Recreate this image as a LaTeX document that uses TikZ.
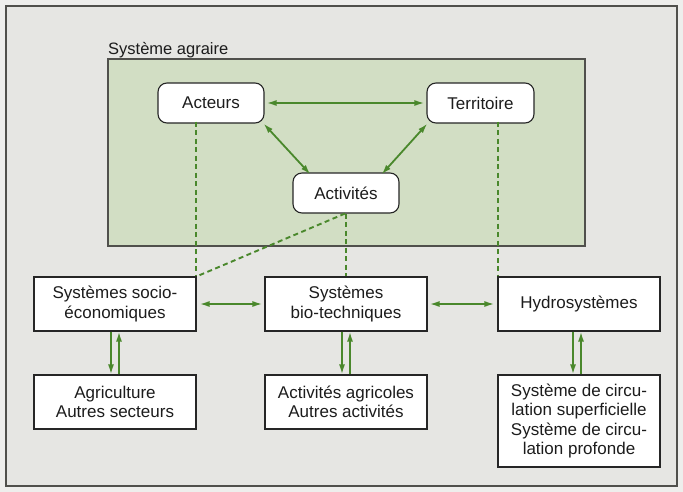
\documentclass[tikz,border=0pt]{standalone}
\usepackage{fontspec}
\setmainfont{Liberation Sans}
\usetikzlibrary{arrows.meta,calc}
\definecolor{bgout}{RGB}{238,238,236}
\definecolor{bgin}{RGB}{230,230,227}
\definecolor{agri}{RGB}{210,222,196}
\definecolor{arrgreen}{RGB}{74,136,44}
\definecolor{framegray}{RGB}{80,80,76}
\definecolor{txt}{RGB}{28,28,28}
\tikzset{
  txtfont/.style={font=\fontsize{17}{19.5}\selectfont, text=txt},
  roundbox/.style={txtfont, draw=black!85, line width=1.1pt, fill=white, rounded corners=9pt,
    minimum width=106pt, minimum height=40pt, inner sep=0pt},
  sqbox/.style={txtfont, draw=black!85, line width=1.1pt, fill=white, align=center,
    minimum width=162pt, minimum height=54pt, inner sep=0pt},
  linkarrow/.style={draw=arrgreen, line width=1.8pt, {Latex[length=10pt,width=6pt]}-{Latex[length=10pt,width=6pt]}},
  downarrow/.style={draw=arrgreen, line width=1.8pt, -{Latex[length=10pt,width=6pt]}},
  dashlink/.style={draw=arrgreen, line width=1.9pt, dash pattern=on 5pt off 3.5pt},
}
\begin{document}
\begin{tikzpicture}[x=1pt,y=-1pt]
\useasboundingbox (0,0) rectangle (683,492);
\fill[bgout] (0,0) rectangle (683,492);
\draw[framegray, fill=bgin, line width=1.4pt] (6,6) rectangle (677,486);

% Système agraire block
\node[txtfont, anchor=base west, inner sep=0pt, font=\fontsize{16.5}{19}\selectfont] (lbl) at (108,55) {Système agraire};
\draw[framegray, fill=agri, line width=1.4pt] (108,59) rectangle (585,246);

\node[roundbox] (acteurs) at (211,103) {Acteurs};
\node[roundbox, minimum width=107pt] (territoire) at (480.5,103) {Territoire};
\node[roundbox] (activites) at (346,193) {Activités};

% lower boxes
\node[sqbox] (socio) at (115,304) {Systèmes socio-\\économiques};
\node[sqbox] (bio) at (346,304) {Systèmes\\bio-techniques};
\node[sqbox] (hydro) at (579,304) {Hydrosystèmes};

\node[sqbox] (agric) at (115,402) {Agriculture\\Autres secteurs};
\node[sqbox] (actagri) at (346,402) {Activités agricoles\\Autres activités};
\node[sqbox, minimum height=92pt] (circ) at (579,421) {Système de circu-\\lation superficielle\\Système de circu-\\lation profonde};

% dashed links
\draw[dashlink] ([xshift=-0.5pt,yshift=2pt]acteurs.south -| socio.north east) -- ([xshift=-0.5pt]socio.north east);
\draw[dashlink] ([xshift=0.5pt,yshift=2pt]territoire.south -| hydro.north west) -- ([xshift=0.5pt]hydro.north west);
\draw[dashlink] (activites.south) -- (bio.north);
\draw[dashlink] ([xshift=-1pt]activites.south) -- (socio.north east);

% arrows inside agrarian system
\draw[linkarrow] ([xshift=2pt]acteurs.east) -- ([xshift=-2pt]territoire.west);
\draw[linkarrow] ([xshift=-1pt]acteurs.south east) -- ([xshift=18pt,yshift=-2pt]activites.north west);
\draw[linkarrow] ([xshift=1pt]territoire.south west) -- ([xshift=-18pt,yshift=-2pt]activites.north east);

% horizontal arrows between systems
\draw[linkarrow] ([xshift=3pt]socio.east) -- ([xshift=-2pt]bio.west);
\draw[linkarrow] ([xshift=2pt]bio.east) -- ([xshift=-3pt]hydro.west);

% vertical arrow pairs
\draw[downarrow] ([xshift=-4pt]socio.south) -- ([xshift=-4pt]agric.north);
\draw[downarrow] ([xshift=4pt]agric.north) -- ([xshift=4pt]socio.south);
\draw[downarrow] ([xshift=-4pt]bio.south) -- ([xshift=-4pt]actagri.north);
\draw[downarrow] ([xshift=4pt]actagri.north) -- ([xshift=4pt]bio.south);
\draw[downarrow] ([xshift=-6pt]hydro.south) -- ([xshift=-6pt]circ.north);
\draw[downarrow] ([xshift=2pt]circ.north) -- ([xshift=2pt]hydro.south);
\end{tikzpicture}
\end{document}
